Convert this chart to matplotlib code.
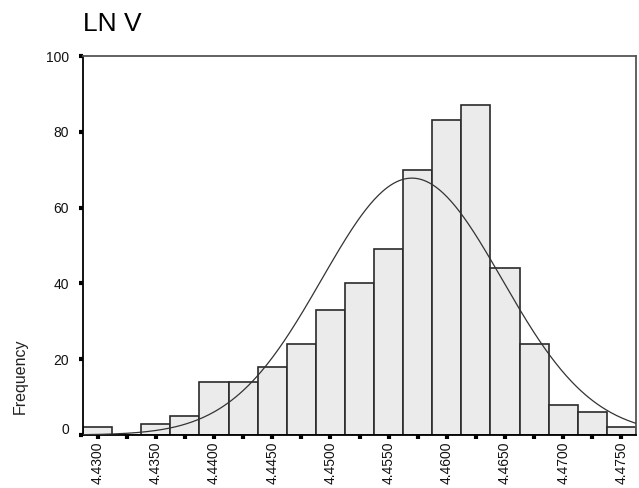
import numpy as np
import matplotlib
matplotlib.use("Agg")
import matplotlib.pyplot as plt
import matplotlib.transforms as mtransforms

plt.rcParams['font.family'] = ['Liberation Sans', 'DejaVu Sans']

# Histogram of LN V: bin centres and frequencies
bin_centers = [4.4300, 4.4325, 4.4350, 4.4375, 4.4400, 4.4425, 4.4450, 4.4475,
               4.4500, 4.4525, 4.4550, 4.4575, 4.4600, 4.4625, 4.4650, 4.4675,
               4.4700, 4.4725, 4.4750]
frequencies = [2, 0, 3, 5, 14, 14, 18, 24, 33, 40, 49, 70, 83, 87, 44, 24, 8, 6, 2]
bin_width = 0.0025

# Normal curve parameters
mean_lnv = 4.4570
sd_lnv = 0.00774
n_total = sum(frequencies)

y_ticks = [0, 20, 40, 60, 80, 100]
x_labels = ["4.4300", "", "4.4350", "", "4.4400", "", "4.4450", "", "4.4500", "",
            "4.4550", "", "4.4600", "", "4.4650", "", "4.4700", "", "4.4750"]

fig = plt.figure(figsize=(6.39, 4.88), dpi=100)
ax = fig.add_axes([83 / 639, 53 / 488, 553 / 639, 379 / 488])

ax.bar(bin_centers, frequencies, width=bin_width, color="#ebebeb",
       edgecolor="#2a2a2a", linewidth=1.2, zorder=2)

xlo = bin_centers[0] - bin_width / 2
xhi = bin_centers[-1] + bin_width / 2
xs = np.linspace(xlo, xhi, 400)
curve = n_total * bin_width / (sd_lnv * np.sqrt(2 * np.pi)) * \
    np.exp(-0.5 * ((xs - mean_lnv) / sd_lnv) ** 2)
ax.plot(xs, curve, color="#333333", linewidth=0.9, zorder=3)

ax.set_xlim(xlo, xhi)
ax.set_ylim(0, 100)

ax.set_xticks(bin_centers)
ax.set_xticklabels(x_labels, rotation=90, fontsize=10, color="#111111")
ax.set_yticks(y_ticks)
ax.set_yticklabels([str(v) for v in y_ticks], fontsize=10, color="#111111")
ax.tick_params(axis="x", direction="out", length=3, width=3, pad=2, color="black")
ax.tick_params(axis="y", direction="out", length=3, width=3, pad=7, color="black")

# lift the "0" label slightly above its tick
zero_lbl = ax.get_yticklabels()[0]
zero_lbl.set_transform(zero_lbl.get_transform() +
                       mtransforms.ScaledTranslation(0, 6 / 100, fig.dpi_scale_trans))

for side in ("left", "bottom"):
    ax.spines[side].set_color("black")
    ax.spines[side].set_linewidth(1.3)
for side in ("top", "right"):
    ax.spines[side].set_color("#555555")
    ax.spines[side].set_linewidth(1.3)

fig.text(83 / 639, 1 - 24 / 488, "LN V", fontsize=19, ha="left", va="center")
fig.text(20 / 639, 1 - 376 / 488, "Frequency", fontsize=11.5, rotation=90,
         ha="center", va="center", color="#222222")

fig.savefig("out.png", dpi=100)
